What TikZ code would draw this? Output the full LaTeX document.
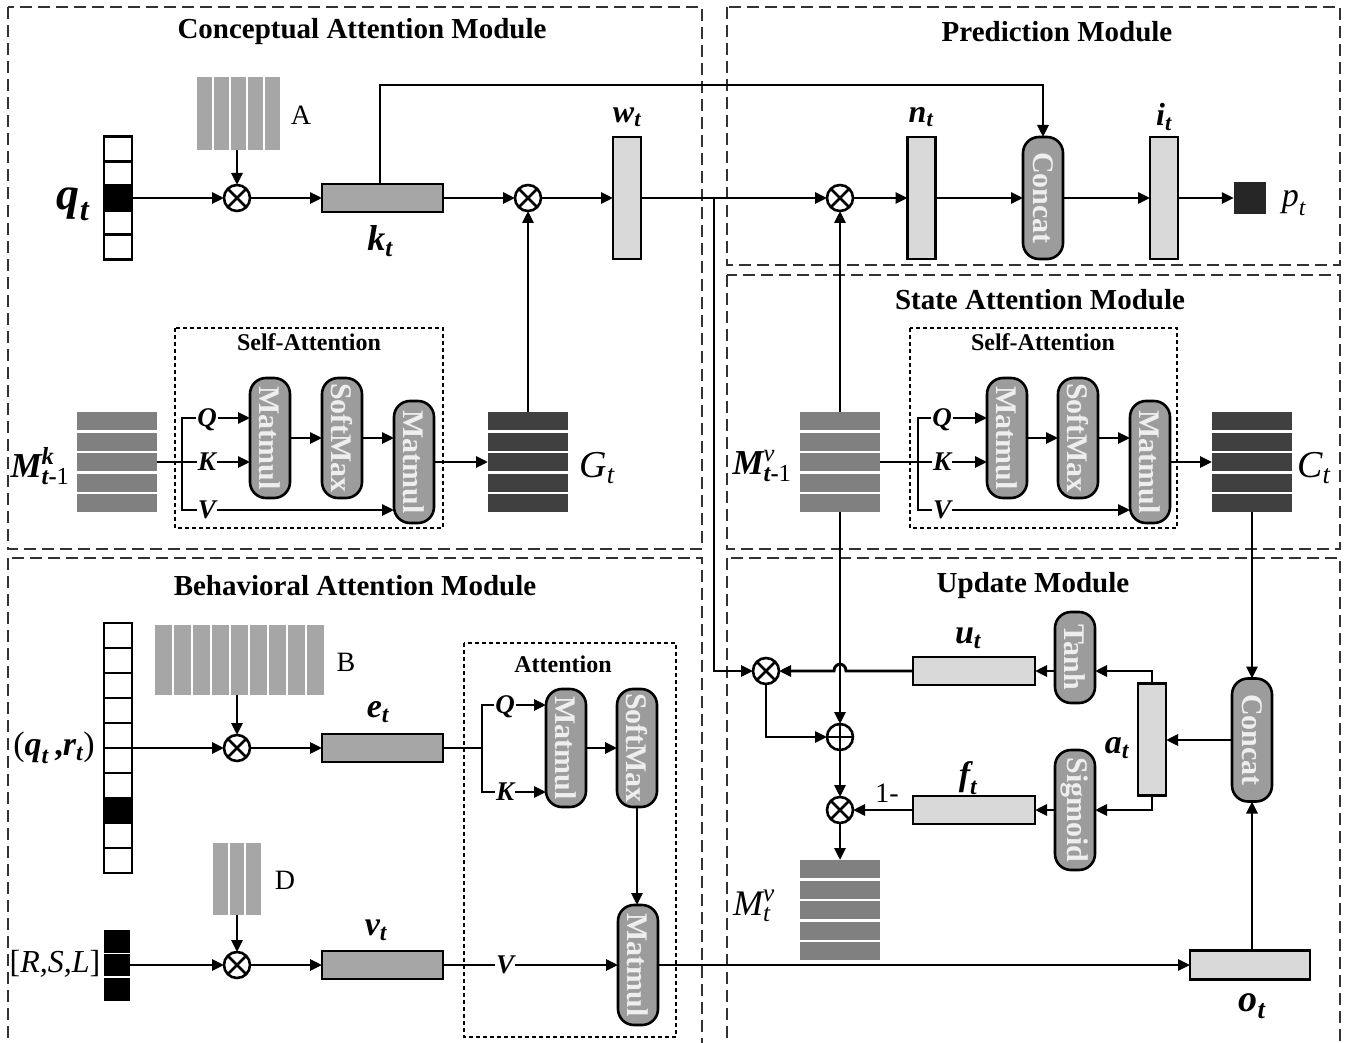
\documentclass[tikz,border=0pt]{standalone}
\usepackage{fontspec}
\usepackage{amsmath}
\setmainfont{Liberation Serif}
\usetikzlibrary{arrows.meta,calc}

\definecolor{boxlight}{HTML}{D9D9D9}
\definecolor{boxmid}{HTML}{A6A6A6}
\definecolor{pillfill}{HTML}{9C9C9C}
\definecolor{pilltext}{HTML}{EEEEEE}
\definecolor{memgray}{HTML}{808080}
\definecolor{memdark}{HTML}{404040}
\definecolor{pdark}{HTML}{262626}
\definecolor{framecol}{HTML}{333333}

\newcommand\fsz[1]{\fontsize{#1}{#1}\selectfont}
\newcommand\bfit[1]{\text{\bfseries\itshape #1}}
\newcommand\rgit[1]{\text{\itshape #1}}
\newcommand\tmone{\text{\bfseries\itshape t\upshape -\mdseries 1}}

\tikzset{
  conn/.style={line width=2.9pt},
  arr/.style={conn,-{Triangle[length=12pt,width=11pt]}},
  modframe/.style={draw=framecol,line width=1.4pt,dash pattern=on 12pt off 6pt},
  dotframe/.style={draw=black,line width=2.4pt,dash pattern=on 4pt off 3pt},
  vecbox/.style={draw,line width=2.9pt,fill=#1,inner sep=0pt,outer sep=0pt},
  hbar/.style={vecbox=boxmid,minimum width=121pt,minimum height=28pt},
  hbarl/.style={vecbox=boxlight,minimum width=122pt,minimum height=28pt},
  vbarl/.style={vecbox=boxlight,minimum width=28pt,minimum height=122pt},
  pill/.style={draw,line width=2.6pt,fill=pillfill,rounded corners=16pt,
    minimum width=40pt,minimum height=#1,inner sep=0pt,outer sep=0pt,
    font=\fsz{30}\bfseries,text=pilltext},
  mat/.style 2 args={inner sep=0pt,outer sep=0pt,minimum width=#1,minimum height=#2},
  times/.style={circle,draw,line width=2.6pt,minimum size=26pt,inner sep=0pt,outer sep=0pt,fill=white,
    path picture={\draw[line width=2.6pt]
      (path picture bounding box.north west)--(path picture bounding box.south east)
      (path picture bounding box.north east)--(path picture bounding box.south west);}},
  oplus/.style={circle,draw,line width=2.6pt,minimum size=26pt,inner sep=0pt,outer sep=0pt,fill=white,
    path picture={\draw[line width=2.6pt]
      (path picture bounding box.north)--(path picture bounding box.south)
      (path picture bounding box.east)--(path picture bounding box.west);}},
  title/.style={font=\fsz{29}\bfseries},
  subtitle/.style={font=\fsz{24}\bfseries},
  qkv/.style={font=\fsz{27}\bfseries\itshape,inner sep=1pt,text height=17pt,text depth=0pt},
  plain/.style={font=\fsz{28},inner sep=1pt},
  sym/.style={font=\fsz{#1},inner sep=0pt},
}

\begin{document}
\begin{tikzpicture}[x=1pt,y=-1pt]
\useasboundingbox (0,0) rectangle (1347,1043);
\fill[white] (0,0) rectangle (1347,1043);

% ---------------- module frames ----------------
\draw[modframe] (8,7) rectangle (702,549);
\draw[modframe] (727,7) rectangle (1340,265);
\draw[modframe] (727,275) rectangle (1340,549);
\draw[modframe] (8,558) rectangle (702,1060);
\draw[modframe] (727,558) rectangle (1340,1060);

\node[title] (tconc) at (362,32) {Conceptual Attention Module};
\node[title] (tpred) at (1057,32) {Prediction Module};
\node[title] (tstate) at (1040,300) {State Attention Module};
\node[title] (tbeh) at (355,586) {Behavioral Attention Module};
\node[title] (tupd) at (1033,586) {Update Module};

% ---------------- conceptual attention ----------------
\foreach \i/\c in {1/white,2/white,3/black,4/white,5/white}
  \node[vecbox=\c,minimum width=28pt,minimum height=24.6pt] (q\i) at (118,{136.5+24.6*(\i-0.5)}) {};
\node[sym=46] (lq) at (73,204) {$\bfit{q}_{\bfit{t}}$};

\node[mat={83pt}{73pt}] (matA) at (238.5,113.5) {};
\foreach \i in {0,...,4}
  \fill[boxmid] ($(matA.north west)+(\i*17,0)$) rectangle ++(15,73);
\node[plain] (lA) at (301,115) {A};

\node[times] (ox1) at (237,198) {};
\node[hbar] (kbox) at (382.5,198) {};
\node[sym=36] (lk) at (380,241) {$\bfit{k}_{\bfit{t}}$};
\node[times] (ox2) at (528,198) {};
\node[vbarl] (wbox) at (627,198) {};
\node[sym=32] (lw) at (627,117) {$\bfit{w}_{\bfit{t}}$};

\draw[arr] (q3.east) -- (ox1.west);
\draw[arr] (matA.south -| ox1) -- (ox1.north);
\draw[arr] (ox1.east) -- (kbox.west);
\draw[arr] (kbox.east) -- (ox2.west);
\draw[arr] (ox2.east) -- (wbox.west);

% self-attention over the concept memory
\draw[dotframe] (175,328) rectangle (443,528);
\node[subtitle] (lsa1) at (309,342) {Self-Attention};
\node[mat={80pt}{100pt}] (mk) at (117,462) {};
\foreach \i in {0,...,4}
  \fill[memgray] ($(mk.north west)+(0,\i*20.5)$) rectangle ++(80,18);
\node[sym=35] (lmk) at (40,466) {$\bfit{M}^{\bfit{k}}_{\tmone}$};

\node[qkv] (qa) at (207,418) {Q};
\node[qkv] (ka) at (207,462) {K};
\node[qkv] (va) at (207,510) {V};
\coordinate (bra) at (182,462);
\node[pill=120pt] (mm1) at (270,438) {\rotatebox{-90}{Matmul}};
\node[pill=120pt] (sm1) at (342,438) {\rotatebox{-90}{SoftMax}};
\node[pill=122pt] (mm2) at (414,462) {\rotatebox{-90}{Matmul}};
\node[mat={80pt}{100pt}] (G) at (528,462) {};
\foreach \i in {0,...,4}
  \fill[memdark] ($(G.north west)+(0,\i*20.5)$) rectangle ++(80,18);
\node[sym=38] (lG) at (597,468) {$\rgit{G}_{\rgit{t}}$};

\draw[conn] (mk.east) -- (ka.west);
\draw[conn] (qa.west) -| (bra) |- (va.west);
\draw[arr] (qa.east) -- (qa.east -| mm1.west);
\draw[arr] (ka.east) -- (ka.east -| mm1.west);
\draw[arr] (va.east) -- (va.east -| mm2.west);
\draw[arr] (mm1.east) -- (sm1.west);
\draw[arr] (sm1.east) -- (sm1.east -| mm2.west);
\draw[arr] (mm2.east) -- (G.west);
\draw[arr] (G.north) -- (ox2.south);

% ---------------- prediction ----------------
\node[times] (ox3) at (840,198) {};
\node[vbarl] (nbox) at (921.5,198) {};
\node[sym=32] (ln) at (921,117) {$\bfit{n}_{\bfit{t}}$};
\node[pill=122pt] (cat1) at (1043,198) {\rotatebox{-90}{Concat}};
\node[vbarl] (ibox) at (1164,198) {};
\node[sym=32] (li) at (1164,117) {$\bfit{i}_{\bfit{t}}$};
\node[fill=pdark,minimum size=32pt,inner sep=0pt] (psq) at (1250,198) {};
\node[sym=34] (lp) at (1294,203) {$\rgit{p}_{\rgit{t}}$};

\coordinate (ktop) at (380,85);
\draw[arr] (kbox.north -| ktop) -- (ktop) -| (cat1.north);
\draw[arr] (wbox.east) -- (ox3.west);
\draw[arr] (ox3.east) -- (nbox.west);
\draw[arr] (nbox.east) -- (cat1.west);
\draw[arr] (cat1.east) -- (ibox.west);
\draw[arr] (ibox.east) -- (psq.west);

% ---------------- state attention ----------------
\draw[dotframe] (910,328) rectangle (1177,528);
\node[subtitle] (lsa2) at (1043,342) {Self-Attention};
\node[mat={80pt}{100pt}] (mv) at (840,462) {};
\foreach \i in {0,...,4}
  \fill[memgray] ($(mv.north west)+(0,\i*20.5)$) rectangle ++(80,18);
\node[sym=35] (lmv) at (762,466) {$\bfit{M}^{\rgit{v}}_{\tmone}$};

\node[qkv] (qb) at (942,418) {Q};
\node[qkv] (kb) at (942,462) {K};
\node[qkv] (vb) at (942,510) {V};
\coordinate (brb) at (918,462);
\node[pill=120pt] (mm3) at (1007,438) {\rotatebox{-90}{Matmul}};
\node[pill=120pt] (sm2) at (1078,438) {\rotatebox{-90}{SoftMax}};
\node[pill=122pt] (mm4) at (1150,462) {\rotatebox{-90}{Matmul}};
\node[mat={80pt}{100pt}] (C) at (1252,462) {};
\foreach \i in {0,...,4}
  \fill[memdark] ($(C.north west)+(0,\i*20.5)$) rectangle ++(80,18);
\node[sym=38] (lC) at (1314,468) {$\rgit{C}_{\rgit{t}}$};

\draw[conn] (mv.east) -- (kb.west);
\draw[conn] (qb.west) -| (brb) |- (vb.west);
\draw[arr] (qb.east) -- (qb.east -| mm3.west);
\draw[arr] (kb.east) -- (kb.east -| mm3.west);
\draw[arr] (vb.east) -- (vb.east -| mm4.west);
\draw[arr] (mm3.east) -- (sm2.west);
\draw[arr] (sm2.east) -- (sm2.east -| mm4.west);
\draw[arr] (mm4.east) -- (C.west);
\draw[arr] (mv.north) -- (ox3.south);

% ---------------- behavioral attention ----------------
\foreach \i/\c in {1/white,2/white,3/white,4/white,5/white,6/white,7/white,8/black,9/white,10/white}
  \node[vecbox=\c,minimum width=28pt,minimum height=25pt] (r\i) at (118,{623+25*(\i-0.5)}) {};
\node[sym=34] (lqr) at (54,748) {($\bfit{q}_{\bfit{t}}$\,\textbf{,}$\bfit{r}_{\bfit{t}}$)};

\node[mat={169pt}{70pt}] (matB) at (239.5,660) {};
\foreach \i in {0,...,8}
  \fill[boxmid] ($(matB.north west)+(\i*19,0)$) rectangle ++(17,70);
\node[plain] (lB) at (346,662) {B};

\node[times] (ox4) at (237,748) {};
\node[hbar] (ebox) at (382.5,748) {};
\node[sym=34] (le) at (378,712) {$\bfit{e}_{\bfit{t}}$};

\draw[arr] (r5.south east) -- (ox4.west);
\draw[arr] (matB.south -| ox4) -- (ox4.north);
\draw[arr] (ox4.east) -- (ebox.west);

\draw[dotframe] (464,643) rectangle (676,1037);
\node[subtitle] (latt) at (563,664) {Attention};
\node[qkv] (qc) at (505,705) {Q};
\node[qkv] (kc) at (505,792) {K};
\coordinate (brc) at (482,748);
\node[pill=118pt] (mm5) at (566,748) {\rotatebox{-90}{Matmul}};
\node[pill=118pt] (sm3) at (637,748) {\rotatebox{-90}{SoftMax}};
\node[pill=120pt] (mm6) at (638,965) {\rotatebox{-90}{Matmul}};

\draw[conn] (ebox.east) -- (brc);
\draw[conn] (qc.west) -| (brc) |- (kc.west);
\draw[arr] (qc.east) -- (qc.east -| mm5.west);
\draw[arr] (kc.east) -- (kc.east -| mm5.west);
\draw[arr] (mm5.east) -- (sm3.west);
\draw[arr] (sm3.south) -- (sm3.south |- mm6.north);

\foreach \i/\y in {1/941.5,2/965,3/989.5}
  \node[fill=black,minimum width=26pt,minimum height=22.5pt,inner sep=0pt] (s\i) at (117,\y) {};
\node[sym=32] (lrsl) at (55,964) {[\itshape R,S,L\upshape]};

\node[mat={47.5pt}{72pt}] (matD) at (236.75,879) {};
\foreach \i in {0,...,2}
  \fill[boxmid] ($(matD.north west)+(\i*16.5,0)$) rectangle ++(14.5,72);
\node[plain] (lD) at (285,880) {D};

\node[times] (ox5) at (237,965) {};
\node[hbar] (vbox) at (382.5,965) {};
\node[sym=34] (lv) at (376,930) {$\bfit{v}_{\bfit{t}}$};
\node[qkv] (vc) at (505,965) {V};

\draw[arr] (s2.east) -- (ox5.west);
\draw[arr] (matD.south -| ox5) -- (ox5.north);
\draw[arr] (ox5.east) -- (vbox.west);
\draw[conn] (vbox.east) -- (vc.west);
\draw[arr] (vc.east) -- (vc.east -| mm6.west);

% ---------------- update ----------------
\node[times] (oxu) at (766,671) {};
\node[oplus] (plus) at (840,737) {};
\node[times] (oxf) at (840,810) {};
\node[hbarl] (ubox) at (974,671) {};
\node[sym=34] (lu) at (968,638) {$\bfit{u}_{\bfit{t}}$};
\node[hbarl] (fbox) at (974,810) {};
\node[sym=34] (lf) at (968,778) {$\bfit{f}_{\bfit{t}}$};
\node[pill=91pt] (tanh) at (1075,657.5) {\rotatebox{-90}{Tanh}};
\node[pill=120pt] (sigm) at (1075,810) {\rotatebox{-90}{Sigmoid}};
\node[vecbox=boxlight,minimum width=28pt,minimum height=112pt] (abox) at (1152,739.5) {};
\node[sym=34] (la) at (1117,748) {$\bfit{a}_{\bfit{t}}$};
\node[pill=123pt] (cat2) at (1252,740) {\rotatebox{-90}{Concat}};
\node[hbarl,minimum width=120pt,minimum height=29pt] (obox) at (1250,965) {};
\node[sym=38] (lo) at (1252,1006) {$\bfit{o}_{\bfit{t}}$};
\node[mat={80pt}{100pt}] (mvt) at (840,910) {};
\foreach \i in {0,...,4}
  \fill[memgray] ($(mvt.north west)+(0,\i*20.5)$) rectangle ++(80,18);
\node[sym=36] (lmvt) at (754,906) {$\rgit{M}^{\rgit{v}}_{\rgit{t}}$};
\node[plain] (lone) at (887,793) {1-};

\coordinate (br) at (714,198);
\draw[arr] (br) |- (oxu.west);
\draw[arr] (ubox.west) -- (846,671) .. controls (846,662) and (834,662) .. (834,671) -- (oxu.east);
\draw[arr] (tanh.west |- ubox.east) -- (ubox.east);
\draw[arr] (abox.north) |- (tanh.east |- ubox.east);
\draw[arr] (abox.south) |- (sigm.east);
\draw[arr] (sigm.west) -- (fbox.east);
\draw[arr] (fbox.west) -- (oxf.east);
\draw[arr] (oxu.south) |- (plus.west);
\draw[arr] (mv.south) -- (plus.north);
\draw[arr] (plus.south) -- (oxf.north);
\draw[arr] (oxf.south) -- (mvt.north);
\draw[arr] (cat2.west) -- (cat2.west -| abox.east);
\draw[arr] (C.south) -- (cat2.north);
\draw[arr] (obox.north -| cat2.south) -- (cat2.south);
\draw[arr] (mm6.east) -- (obox.west);
\end{tikzpicture}
\end{document}
